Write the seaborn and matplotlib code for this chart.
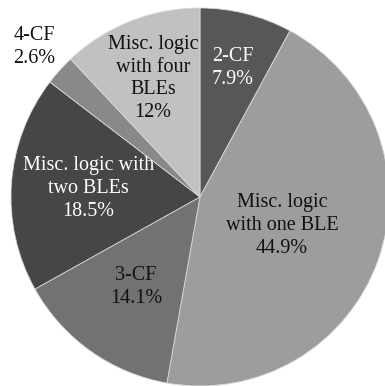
import numpy as np
import matplotlib
matplotlib.use("Agg")
import matplotlib.pyplot as plt
import seaborn as sns

# Share of logic blocks by type
labels = ["2-CF", "Misc. logic\nwith one BLE", "3-CF", "Misc. logic with\ntwo BLEs", "4-CF", "Misc. logic\nwith four\nBLEs"]
values = [7.9, 44.9, 14.1, 18.5, 2.6, 12.0]
value_text = ["7.9%", "44.9%", "14.1%", "18.5%", "2.6%", "12%"]
colors = ["#575757", "#9d9d9d", "#727272", "#464646", "#898989", "#c1c1c1"]
text_colors = ["white", "#111111", "#111111", "white", "#111111", "#111111"]
label_radius = [0.706, 0.46, 0.584, 0.593, 1.18, 0.674]

sns.set_theme(style="white")
plt.rcParams["font.family"] = ["Liberation Serif", "DejaVu Serif"]

fig = plt.figure(figsize=(3.85, 3.86), dpi=100)
ax = fig.add_axes([0, 0, 1, 1])
wedges, _ = ax.pie(values, colors=colors, startangle=90, counterclock=False,
                   radius=1.0,
                   wedgeprops=dict(edgecolor="#d8d8d8", linewidth=0.6))

for w, lab, vt, tc, r in zip(wedges, labels, value_text, text_colors, label_radius):
    ang = np.deg2rad((w.theta1 + w.theta2) / 2)
    ax.text(r * np.cos(ang), r * np.sin(ang), f"{lab}\n{vt}", ha="center", va="center",
            color=tc, fontsize=14.5, linespacing=1.28, multialignment="center")

ax.set_xlim(-1.058, 0.979)
ax.set_ylim(-1.0, 1.042)
ax.set_aspect("equal")
ax.axis("off")
fig.savefig("out.png", dpi=100)
